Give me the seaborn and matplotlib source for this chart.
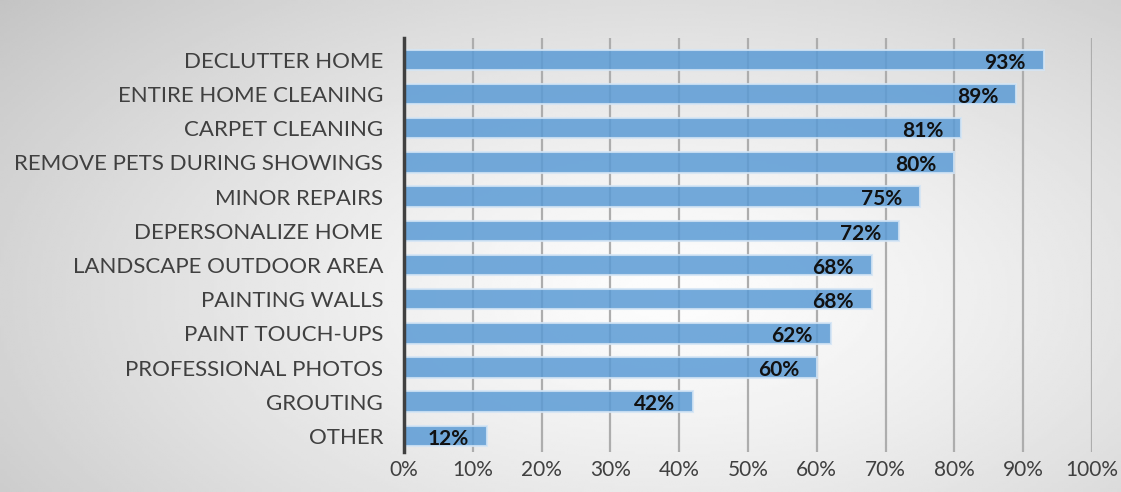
import numpy as np
import pandas as pd
import seaborn as sns
import matplotlib.pyplot as plt

# --- Data ---
tasks = ['DECLUTTER HOME', 'ENTIRE HOME CLEANING', 'CARPET CLEANING',
         'REMOVE PETS DURING SHOWINGS', 'MINOR REPAIRS', 'DEPERSONALIZE HOME',
         'LANDSCAPE OUTDOOR AREA', 'PAINTING WALLS', 'PAINT TOUCH-UPS',
         'PROFESSIONAL PHOTOS', 'GROUTING', 'OTHER']
shares = [93, 89, 81, 80, 75, 72, 68, 68, 62, 60, 42, 12]
x_ticks = [0, 10, 20, 30, 40, 50, 60, 70, 80, 90, 100]

df = pd.DataFrame({'task': tasks, 'share': shares})

sns.set_theme(style="white")
plt.rcParams['font.family'] = ['Lato', 'DejaVu Sans']

fig = plt.figure(figsize=(11.21, 4.92), dpi=100)

# radial gradient background
bg = fig.add_axes([0, 0, 1, 1], zorder=0)
gx, gy = np.meshgrid(np.linspace(0, 1, 400), np.linspace(0, 1, 200))
dist = np.sqrt(((gx - 0.6) / 0.75) ** 2 + ((gy - 0.6) / 0.9) ** 2)
shade = np.clip(0.99 - 0.21 * dist ** 1.3, 0, 1)
bg.imshow(shade, cmap='gray', vmin=0, vmax=1, aspect='auto', extent=[0, 1, 0, 1])
bg.axis('off')

ax = fig.add_axes([0.3604, 0.0813, 0.6137, 0.8415], zorder=1)
ax.patch.set_alpha(0)

ax.set_xticks(x_ticks)
ax.grid(axis='x', color='#adadad', linewidth=1.6, zorder=0)
ax.set_axisbelow(True)

sns.barplot(data=df, x='share', y='task', orient='h', color='#5b9bd5',
            saturation=1, width=0.6, alpha=0.85, edgecolor='#d4e5f5',
            linewidth=1.5, ax=ax)

for i, v in enumerate(shares):
    ax.text(v - 2.6, i + 0.08, f'{v}%', ha='right', va='center',
            fontsize=15, fontweight='bold', color='#111111', zorder=5)

ax.set_xlim(0, 100)
ax.set_ylim(11.47, -0.64)
ax.set_xlabel('')
ax.set_ylabel('')
ax.set_xticklabels([f'{t}%' for t in x_ticks])
ax.tick_params(axis='both', length=0, labelcolor='#404040')
ax.tick_params(axis='x', pad=6, labelsize=15)
ax.tick_params(axis='y', pad=15, labelsize=16)

for s in ['top', 'right', 'bottom']:
    ax.spines[s].set_visible(False)
ax.spines['left'].set_color('#404040')
ax.spines['left'].set_linewidth(2.5)

fig.savefig('out.png', dpi=100)
